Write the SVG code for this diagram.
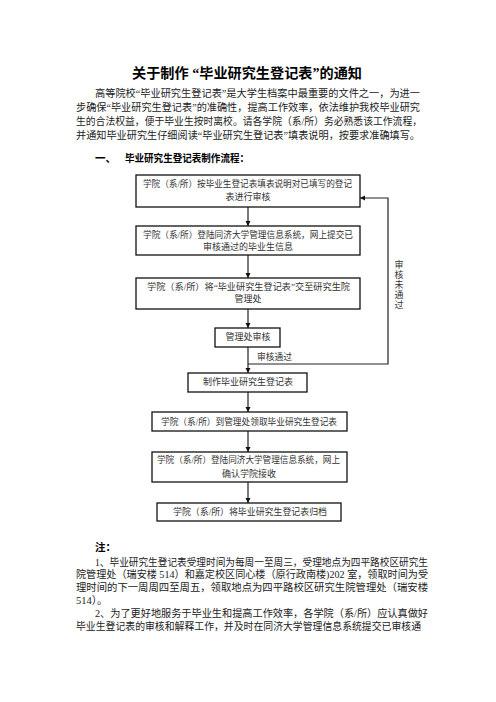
<svg xmlns="http://www.w3.org/2000/svg" width="496" height="702" viewBox="0 0 496 702">
<style>
text{font-family:"Liberation Serif","Noto Sans CJK SC",serif;fill:#222}
.t{font-size:14px;font-weight:bold;fill:#000}
.p{font-size:10.5px}
.h{font-size:10.5px;font-weight:bold;fill:#000}
.b{font-size:9px;fill:#333}
.box{fill:#fff;stroke:#111;stroke-width:1.3}
.ln{fill:none;stroke:#222;stroke-width:1.2}
.m{text-anchor:middle}
</style>
<defs>
<marker id="ah" viewBox="0 0 10 10" refX="10" refY="5" markerWidth="5" markerHeight="6" markerUnits="userSpaceOnUse" orient="auto">
<path d="M0,0 L10,5 L0,10 z" fill="#111"/>
</marker>
</defs>
<rect width="496" height="702" fill="#fff"/>

<text class="t" x="132" y="78" textLength="230" lengthAdjust="spacingAndGlyphs">关于制作 “毕业研究生登记表”的通知</text>
<text class="p" x="95" y="97" textLength="325" lengthAdjust="spacingAndGlyphs">高等院校“毕业研究生登记表”是大学生档案中最重要的文件之一，为进一</text>
<text class="p" x="76" y="111" textLength="344" lengthAdjust="spacingAndGlyphs">步确保“毕业研究生登记表”的准确性，提高工作效率，依法维护我校毕业研究</text>
<text class="p" x="76" y="125" textLength="346" lengthAdjust="spacingAndGlyphs">生的合法权益，便于毕业生按时离校。请各学院（系/所）务必熟悉该工作流程，</text>
<text class="p" x="76" y="139" textLength="344" lengthAdjust="spacingAndGlyphs">并通知毕业研究生仔细阅读“毕业研究生登记表”填表说明，按要求准确填写。</text>
<text class="h" x="95" y="162">一、</text>
<text class="h" x="125" y="162" textLength="124" lengthAdjust="spacingAndGlyphs">毕业研究生登记表制作流程：</text>

<g id="connectors">
<line class="ln" x1="248" y1="207" x2="248" y2="226" marker-end="url(#ah)"/>
<line class="ln" x1="248" y1="255" x2="248" y2="278" marker-end="url(#ah)"/>
<line class="ln" x1="248" y1="309" x2="248" y2="328" marker-end="url(#ah)"/>
<line class="ln" x1="248" y1="347" x2="248" y2="373" marker-end="url(#ah)"/>
<polyline class="ln" points="248,364 388,364 388,198 360,198" marker-end="url(#ah)"/>
<line class="ln" x1="248" y1="392" x2="248" y2="412" marker-end="url(#ah)"/>
<line class="ln" x1="248" y1="431" x2="248" y2="452" marker-end="url(#ah)"/>
<line class="ln" x1="248" y1="482" x2="248" y2="503" marker-end="url(#ah)"/>
<text class="b" x="257" y="360" textLength="35" lengthAdjust="spacingAndGlyphs">审核通过</text>
<text class="b m" x="399" y="268">审</text>
<text class="b m" x="399" y="278">核</text>
<text class="b m" x="399" y="288">未</text>
<text class="b m" x="399" y="298">通</text>
<text class="b m" x="399" y="308">过</text>
</g>

<g id="n1">
<rect class="box" x="136" y="175" width="224" height="32"/>
<text class="b" x="143" y="187" textLength="209" lengthAdjust="spacingAndGlyphs">学院（系/所）按毕业生登记表填表说明对已填写的登记</text>
<text class="b m" x="248" y="200">表进行审核</text>
</g>
<g id="n2">
<rect class="box" x="136" y="226" width="224" height="29"/>
<text class="b" x="143" y="238" textLength="210" lengthAdjust="spacingAndGlyphs">学院（系/所）登陆同济大学管理信息系统，网上提交已</text>
<text class="b m" x="248" y="250">审核通过的毕业生信息</text>
</g>
<g id="n3">
<rect class="box" x="136" y="278" width="224" height="31"/>
<text class="b" x="147" y="290" textLength="203" lengthAdjust="spacingAndGlyphs">学院（系/所）将“毕业研究生登记表”交至研究生院</text>
<text class="b m" x="248" y="302">管理处</text>
</g>
<g id="n4">
<rect class="box" x="215" y="328" width="65" height="19"/>
<text class="b m" x="248" y="340">管理处审核</text>
</g>
<g id="n5">
<rect class="box" x="188" y="373" width="119" height="19"/>
<text class="b m" x="248" y="385">制作毕业研究生登记表</text>
</g>
<g id="n6">
<rect class="box" x="152" y="412" width="195" height="19"/>
<text class="b" x="161" y="425" textLength="176" lengthAdjust="spacingAndGlyphs">学院（系/所）到管理处领取毕业研究生登记表</text>
</g>
<g id="n7">
<rect class="box" x="152" y="452" width="195" height="30"/>
<text class="b" x="157" y="463" textLength="183" lengthAdjust="spacingAndGlyphs">学院（系/所）登陆同济大学管理信息系统，网上</text>
<text class="b m" x="249" y="477">确认学院接收</text>
</g>
<g id="n8">
<rect class="box" x="157" y="503" width="184" height="18"/>
<text class="b" x="173" y="515" textLength="154" lengthAdjust="spacingAndGlyphs">学院（系/所）将毕业研究生登记表归档</text>
</g>

<text class="h" x="95" y="551">注：</text>
<text class="p" x="95" y="566" textLength="333" lengthAdjust="spacingAndGlyphs">1、毕业研究生登记表受理时间为每周一至周三，受理地点为四平路校区研究生</text>
<text class="p" x="76" y="578" textLength="352" lengthAdjust="spacingAndGlyphs">院管理处（瑞安楼 514）和嘉定校区同心楼（原行政南楼)202 室，领取时间为受</text>
<text class="p" x="76" y="591" textLength="352" lengthAdjust="spacingAndGlyphs">理时间的下一周周四至周五，领取地点为四平路校区研究生院管理处（瑞安楼</text>
<text class="p" x="76" y="604">514）。</text>
<text class="p" x="95" y="617" textLength="333" lengthAdjust="spacingAndGlyphs">2、为了更好地服务于毕业生和提高工作效率，各学院（系/所）应认真做好</text>
<text class="p" x="76" y="630" textLength="345" lengthAdjust="spacingAndGlyphs">毕业生登记表的审核和解释工作，并及时在同济大学管理信息系统提交已审核通</text>
</svg>
